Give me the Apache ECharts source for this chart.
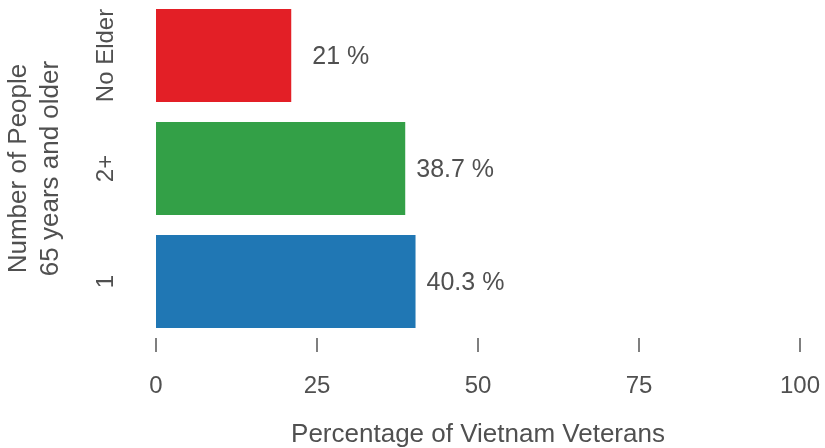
<!DOCTYPE html>
<html>
<head>
<meta charset="utf-8">
<script src="https://cdn.jsdelivr.net/npm/echarts@6/dist/echarts.min.js"></script>
<style>html,body{margin:0;padding:0;background:#fff}#c{width:825px;height:448px}</style>
</head>
<body>
<div id="c"></div>
<script>
const categories = ['1', '2+', 'No Elder'];
const values = [40.3, 38.7, 21];
const barColors = ['#2077b4', '#33a047', '#e31f26'];
const xTicks = [0, 25, 50, 75, 100];

const textColor = '#505050';
const font = 'Liberation Sans, Arial, sans-serif';
const chart = echarts.init(document.getElementById('c'), null, {renderer: 'canvas'});
chart.setOption({
  animation: false,
  grid: {left: 156, right: 25, top: -1, height: 339, containLabel: false, outerBoundsMode: 'none'},
  xAxis: {
    type: 'value', min: xTicks[0], max: xTicks[xTicks.length - 1], interval: 25,
    axisLine: {show: false},
    axisTick: {show: true, length: 14, lineStyle: {color: '#555', width: 1.5}},
    splitLine: {show: false},
    axisLabel: {color: textColor, fontSize: 24, fontFamily: font, margin: 36},
    name: 'Percentage of Vietnam Veterans', nameLocation: 'middle', nameGap: 84,
    nameTextStyle: {color: textColor, fontSize: 26, fontFamily: font}
  },
  yAxis: {
    type: 'category', data: categories,
    axisLine: {show: false}, axisTick: {show: false},
    axisLabel: {color: textColor, fontSize: 24, fontFamily: font, rotate: 90, margin: 38, interval: 0, hideOverlap: false},
    name: 'Number of People\n65 years and older', nameLocation: 'middle', nameGap: 89,
    nameTextStyle: {color: textColor, fontSize: 26, fontFamily: font, lineHeight: 32}
  },
  series: [{
    type: 'bar', barWidth: 93,
    data: values.map((v, i) => ({
      value: v,
      itemStyle: {color: barColors[i]},
      label: {offset: [i === 2 ? 10 : 0, 2]}
    })),
    label: {show: true, position: 'right', distance: 11, formatter: p => p.value + ' %',
      color: textColor, fontSize: 25, fontFamily: font}
  }]
});
</script>
</body>
</html>
